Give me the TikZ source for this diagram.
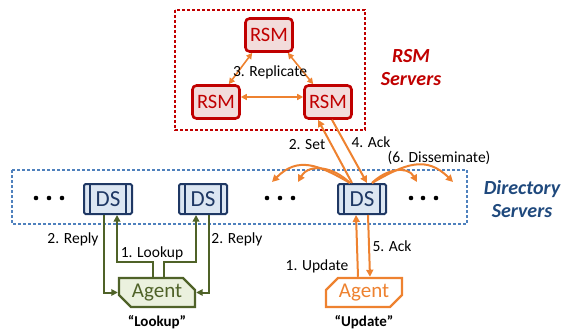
\documentclass[tikz,border=0pt]{standalone}
\usepackage{fontspec}
\setmainfont{Carlito}
\usetikzlibrary{arrows.meta,shapes.misc}
\definecolor{rsmred}{HTML}{C00000}
\definecolor{rsmfill}{HTML}{F2DCDB}
\definecolor{dsblue}{HTML}{1F3864}
\definecolor{dsfill}{HTML}{DCE6F2}
\definecolor{dirblue}{HTML}{4F81BD}
\definecolor{titleblue}{HTML}{1F497D}
\definecolor{agentgreen}{HTML}{4F6228}
\definecolor{agentfill}{HTML}{EBF1DE}
\definecolor{updorange}{HTML}{EE8230}
\tikzset{
  rsm/.style={draw=rsmred, fill=rsmfill, line width=2.6pt, rounded corners=4pt, minimum width=47pt, minimum height=33pt, text=rsmred, font=\fontsize{20.5}{20}\selectfont},
  ds/.style={draw=dsblue, fill=dsfill, line width=2pt, rounded corners=1.5pt, minimum width=48pt, minimum height=30pt, text=dsblue, font=\fontsize{23}{22}\selectfont,
    path picture={\draw[dsblue, line width=1.8pt] ([xshift=6pt]path picture bounding box.north west) -- ([xshift=6pt]path picture bounding box.south west) ([xshift=-6pt]path picture bounding box.north east) -- ([xshift=-6pt]path picture bounding box.south east);}},
  agent/.style={chamfered rectangle, chamfered rectangle xsep=6pt, chamfered rectangle ysep=6pt, line width=2.4pt, minimum width=76pt, minimum height=27pt, inner sep=0pt, font=\fontsize{21}{20}\selectfont},
  lbl/.style={font=\fontsize{15.5}{16}\selectfont, inner sep=0pt},
  grouptitle/.style={align=center, font=\fontsize{20}{23}\selectfont\bfseries\itshape},
  garrow/.style={draw=agentgreen, line width=2pt, -{Triangle[length=6.5pt,width=6.5pt]}},
  oarrow/.style={draw=updorange, line width=2pt, -{Triangle[length=7pt,width=7pt]}},
  rarrow/.style={draw=updorange, line width=1.6pt, {Triangle[length=6pt,width=6pt]}-{Triangle[length=6pt,width=6pt]}},
}
\begin{document}
\begin{tikzpicture}[x=1pt,y=-1pt]
\useasboundingbox (0,0) rectangle (561,331);
% groups
\draw[rsmred, line width=1.1pt, dash pattern=on 3pt off 2pt] (175,10) rectangle (365,130);
\draw[dirblue, line width=1.1pt, dash pattern=on 3pt off 2pt] (12,170) rectangle (467,224);
\node[grouptitle, text=rsmred] (rsmtitle) at (411,68) {RSM\\Servers};
\node[grouptitle, text=titleblue] (dirtitle) at (522,199) {Directory\\Servers};
% RSM servers
\node[rsm] (rsmT) at (269,35) {RSM};
\node[rsm] (rsmL) at (216,102) {RSM};
\node[rsm] (rsmR) at (328,102) {RSM};
\draw[rarrow] ([xshift=8pt]rsmT.south west) -- ([xshift=-12pt]rsmL.north east);
\draw[rarrow] ([xshift=-6pt]rsmT.south east) -- ([xshift=10pt]rsmR.north west);
\draw[rarrow] ([yshift=5pt]rsmL.east) -- ([yshift=5pt]rsmR.west);
\node[lbl] (replicate) at (270,72) {3. Replicate};
% directory servers
\node[ds] (ds1) at (108,199) {DS};
\node[ds] (ds2) at (203,199) {DS};
\node[ds] (ds3) at (362,199) {DS};
\foreach \x in {36,49,62,267,280,293,411,423,436} % edit here for the dots
\fill (\x,198) circle (2.3pt);
% agents
\node[agent, chamfered rectangle corners={north east,south west}, draw=agentgreen, fill=agentfill, text=agentgreen] (agentL) at (157,292.5) {Agent};
\node[agent, chamfered rectangle corners={north west,south east}, draw=updorange, fill=white, text=updorange] (agentU) at (364,292.5) {Agent};
\node[lbl, font=\fontsize{15}{16}\selectfont\bfseries] (qlookup) at (157,322) {“Lookup”};
\node[lbl, font=\fontsize{15}{16}\selectfont\bfseries] (qupdate) at (364,322) {“Update”};
% lookup
\draw[garrow] ([xshift=-4pt]ds1.south) |- (agentL.west);
\draw[garrow] ([xshift=-4pt]agentL.north) -- ++(0,-15) -| ([xshift=9pt]ds1.south);
\draw[garrow] ([xshift=7pt]agentL.north) -- ++(0,-15) -| ([xshift=-7pt]ds2.south);
\draw[garrow] ([xshift=6pt]ds2.south) |- (agentL.east);
\node[lbl] (replyL) at (73,239) {2. Reply};
\node[lbl] (replyR) at (237,239) {2. Reply};
\node[lbl] (lookup1) at (152,253) {1. Lookup};
% update
\draw[oarrow] ([xshift=-6pt]agentU.north) -- ([xshift=-6pt]ds3.south);
\draw[oarrow] ([xshift=6pt]ds3.south) -- ([xshift=6pt]agentU.north);
\draw[oarrow] ([xshift=-10pt]ds3.north) -- ([xshift=-10pt]rsmR.south);
\draw[oarrow] ([xshift=4pt]rsmR.south) -- ([xshift=5pt]ds3.north);
\coordinate (dL2) at (272,182);
\coordinate (dL1) at (298,182);
\coordinate (dR1) at (417,182);
\coordinate (dR2) at (453,182);
\draw[oarrow] ([xshift=-12pt]ds3.north) to[out=135,in=60,looseness=1.1] (dL1);
\draw[oarrow] ([xshift=-12pt]ds3.north) to[out=150,in=45,looseness=1.2] (dL2);
\draw[oarrow] ([xshift=10pt]ds3.north) to[out=45,in=120,looseness=1.1] (dR1);
\draw[oarrow] ([xshift=10pt]ds3.north) to[out=30,in=135,looseness=1.2] (dR2);
\node[lbl] (set) at (307,145) {2. Set};
\node[lbl] (ack4) at (371,142) {4. Ack};
\node[lbl] (dissem) at (439,158) {(6. Disseminate)};
\node[lbl] (update1) at (317,266) {1. Update};
\node[lbl] (ack5) at (392,246) {5. Ack};
\end{tikzpicture}
\end{document}
